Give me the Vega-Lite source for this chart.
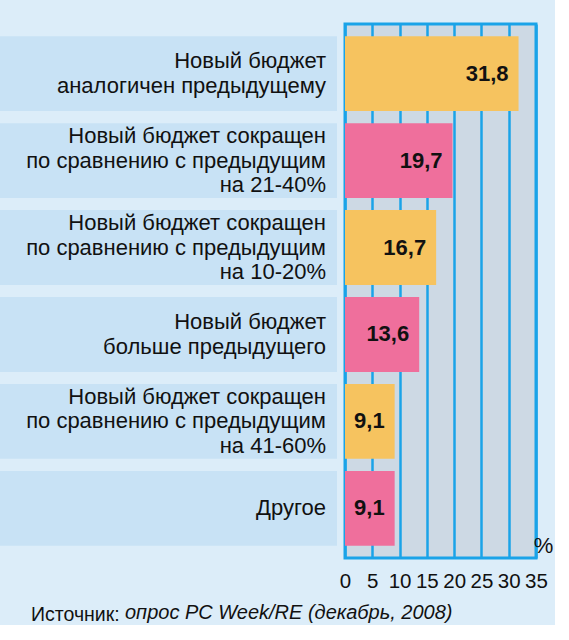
{
  "$schema": "https://vega.github.io/schema/vega-lite/v6.json",
  "background": "#dcedf9",
  "padding": {"left": 0, "top": 22, "right": 0, "bottom": 0},
  "spacing": 0,
  "data": {
    "values": [
      {"label": "Новый бюджет\nаналогичен предыдущему", "value": 31.8, "shade": "A"},
      {"label": "Новый бюджет сокращен\nпо сравнению с предыдущим\nна 21-40%", "value": 19.7, "shade": "B"},
      {"label": "Новый бюджет сокращен\nпо сравнению с предыдущим\nна 10-20%", "value": 16.7, "shade": "A"},
      {"label": "Новый бюджет\nбольше предыдущего", "value": 13.6, "shade": "B"},
      {"label": "Новый бюджет сокращен\nпо сравнению с предыдущим\nна 41-60%", "value": 9.1, "shade": "A"},
      {"label": "Другое", "value": 9.1, "shade": "B"}
    ]
  },
  "title": {
    "text": "опрос PC Week/RE (декабрь, 2008)",
    "orient": "bottom",
    "anchor": "start",
    "frame": "group",
    "baseline": "top",
    "dx": 125,
    "offset": -22,
    "fontStyle": "italic",
    "fontWeight": "normal",
    "fontSize": 20,
    "color": "#111"
  },
  "hconcat": [
    {
      "width": 337,
      "height": 534,
      "view": {"stroke": null},
      "title": {
        "text": "Источник:",
        "orient": "bottom",
        "anchor": "start",
        "frame": "group",
        "baseline": "top",
        "dx": 31,
        "offset": 48,
        "fontWeight": "normal",
        "fontSize": 19.5,
        "color": "#111"
      },
      "encoding": {
        "y": {"field": "label", "type": "nominal", "sort": null, "axis": null,
              "scale": {"paddingInner": 0.14, "paddingOuter": 0.14}}
      },
      "layer": [
        {
          "mark": {"type": "bar", "color": "#c8e2f5"}
        },
        {
          "transform": [{"filter": "split(datum.label, '\\n').length == 1"}],
          "mark": {"type": "text", "align": "right", "baseline": "middle", "dx": -11, "dy": 0, "fontSize": 22, "lineBreak": "\n", "lineHeight": 24.5, "color": "#111"},
          "encoding": {
            "x": {"value": "width"},
            "text": {"field": "label", "type": "nominal"}
          }
        },
        {
          "transform": [{"filter": "split(datum.label, '\\n').length == 2"}],
          "mark": {"type": "text", "align": "right", "baseline": "middle", "dx": -11, "dy": -12.25, "fontSize": 22, "lineBreak": "\n", "lineHeight": 24.5, "color": "#111"},
          "encoding": {
            "x": {"value": "width"},
            "text": {"field": "label", "type": "nominal"}
          }
        },
        {
          "transform": [{"filter": "split(datum.label, '\\n').length == 3"}],
          "mark": {"type": "text", "align": "right", "baseline": "middle", "dx": -11, "dy": -24.5, "fontSize": 22, "lineBreak": "\n", "lineHeight": 24.5, "color": "#111"},
          "encoding": {
            "x": {"value": "width"},
            "text": {"field": "label", "type": "nominal"}
          }
        }
      ]
    },
    {
      "width": 191,
      "height": 534,
      "view": {"fill": "#cdd9e4", "stroke": "#1aa3e8", "strokeWidth": 3},
      "encoding": {
        "y": {"field": "label", "type": "nominal", "sort": null, "axis": null,
              "scale": {"paddingInner": 0.14, "paddingOuter": 0.14}},
        "x": {
          "field": "value", "type": "quantitative",
          "scale": {"domain": [0, 35], "nice": false},
          "axis": {
            "values": [0, 5, 10, 15, 20, 25, 30, 35],
            "grid": true, "gridColor": "#1aa3e8", "gridWidth": 2.5, "gridOpacity": 1,
            "domain": false, "ticks": false,
            "labelFontSize": 20.5, "labelColor": "#111", "labelPadding": 13,
            "labelFlush": false, "labelOverlap": false, "labelBound": false,
            "title": "%", "titleFontSize": 22, "titleFontWeight": "normal", "titleColor": "#111",
            "titleX": 198, "titleY": -1, "titleBaseline": "bottom", "titleAlign": "center", "titleAnchor": null
          }
        }
      },
      "layer": [
        {
          "mark": {"type": "bar"},
          "encoding": {
            "color": {"field": "shade", "type": "nominal", "legend": null,
                      "scale": {"domain": ["A", "B"], "range": ["#f6c35f", "#ef6f9c"]}}
          }
        },
        {
          "mark": {"type": "text", "align": "right", "baseline": "middle", "dx": -10, "fontSize": 22, "fontWeight": "bold", "color": "#111"},
          "encoding": {
            "text": {"field": "value", "type": "quantitative", "format": ".1f"}
          }
        }
      ]
    }
  ],
  "config": {
    "font": "Liberation Sans",
    "locale": {"number": {"decimal": ",", "thousands": "\u00a0", "grouping": [3], "currency": ["", ""]}}
  }
}
